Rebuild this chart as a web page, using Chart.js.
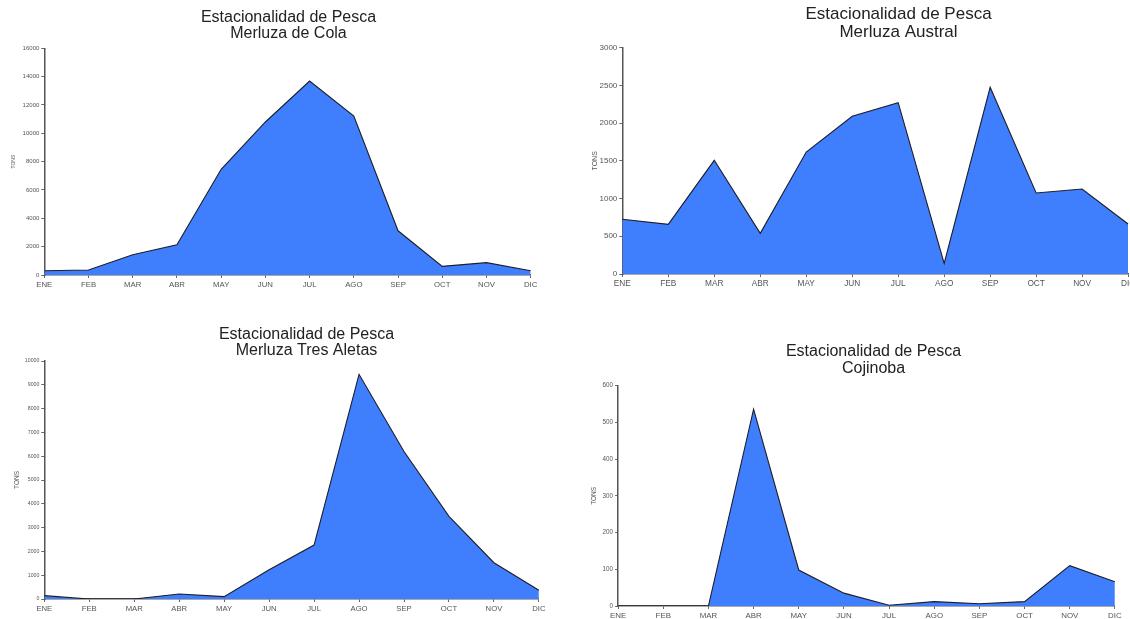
<!DOCTYPE html>
<html>
<head>
<meta charset="utf-8">
<script src="https://cdn.jsdelivr.net/npm/chart.js@4.4.1/dist/chart.umd.min.js"></script>
<style>
  html, body { margin: 0; padding: 0; background: #fff; overflow: hidden; }
  body { width: 1130px; height: 619px; position: relative; }
  canvas { position: absolute; }
</style>
</head>
<body>
<canvas id="c1"></canvas>
<canvas id="c2"></canvas>
<canvas id="c3"></canvas>
<canvas id="c4"></canvas>
<script>
// meses y capturas (toneladas)
var meses = ["ENE", "FEB", "MAR", "ABR", "MAY", "JUN", "JUL", "AGO", "SEP", "OCT", "NOV", "DIC"];
var merluzaCola = [300, 350, 1430, 2140, 7460, 10800, 13690, 11220, 3120, 610, 870, 300];
var merluzaAustral = [725, 658, 1507, 539, 1617, 2090, 2271, 141, 2475, 1074, 1127, 663];
var merluzaTresAletas = [140, 0, 0, 210, 100, 1230, 2266, 9440, 6196, 3470, 1525, 364];
var cojinoba = [0, 0, 0, 536, 98, 35, 2, 12, 6, 12, 110, 66];

// escalas del eje y: [max, paso]
var ejeCola = [16000, 2000];
var ejeAustral = [3000, 500];
var ejeTresAletas = [10000, 1000];
var ejeCojinoba = [600, 100];

var titulo = "Estacionalidad de Pesca";
var FONT = "'Liberation Sans', Arial, Helvetica, sans-serif";

function grafico(id, nombre, valores, eje, lay) {
    var lh = lay.titleSize * 1.05;
    var tonsLH = lay.tonsSize * 1.2;
    var yw = lay.plotL - lay.tonsX + tonsLH / 2;
    var left = lay.plotL - yw;
    var width = 2 * (lay.titleC - left);
    var y2w = left + width - lay.plotR;
    // +1.5: el texto se ve un poco alto con baseline middle
    var pt = lay.line1 + 1.5 - lay.top - lh / 2;
    var pb = lay.plotT - lay.top - pt - 2 * lh;
    var xh = 24;
    var height = lay.plotB - lay.top + xh;

    var cv = document.getElementById(id);
    cv.style.left = left + "px";
    cv.style.top = lay.top + "px";
    cv.width = Math.round(width);
    cv.height = Math.round(height);

    return new Chart(cv, {
        type: 'line',
        data: {
            labels: meses,
            datasets: [{
                label: nombre,
                data: valores,
                fill: 'origin',
                backgroundColor: '#3f7ffd',
                borderColor: '#1e1e2a',
                borderWidth: 1.1,
                pointRadius: 0,
                tension: 0
            }]
        },
        options: {
            responsive: false,
            animation: false,
            layout: { padding: 0 },
            plugins: {
                legend: { display: false },
                tooltip: { enabled: false },
                title: {
                    display: true,
                    text: [titulo, nombre],
                    color: '#222',
                    font: { family: FONT, size: lay.titleSize, weight: 'normal', lineHeight: 1.05 },
                    padding: { top: pt, bottom: pb }
                }
            },
            scales: {
                x: {
                    offset: false,
                    z: 1,
                    grid: { display: true, drawOnChartArea: false, drawTicks: true, tickLength: 3, color: '#666' },
                    border: { display: true, color: '#555', width: 1.5 },
                    ticks: {
                        autoSkip: false, maxRotation: 0, padding: 2,
                        color: '#555',
                        font: { family: FONT, size: lay.xSize }
                    },
                    afterFit: function (s) { s.height = xh; }
                },
                y: {
                    min: 0, max: eje[0],
                    z: 1,
                    grid: { display: true, drawOnChartArea: false, drawTicks: true, tickLength: 3, color: '#666' },
                    border: { display: true, color: '#555', width: 1.5 },
                    ticks: {
                        stepSize: eje[1], padding: 2,
                        color: '#555',
                        font: { family: FONT, size: lay.ySize },
                        callback: function (v) { return String(v); }
                    },
                    title: {
                        display: true, text: 'TONS', color: '#555',
                        padding: { top: 0, bottom: 0 },
                        font: { family: FONT, size: lay.tonsSize, lineHeight: 1.2 }
                    },
                    afterFit: function (s) { s.width = yw; }
                },
                y2: {
                    position: 'right',
                    min: 0, max: eje[0],
                    grid: { display: false },
                    border: { display: false },
                    ticks: { display: false },
                    afterFit: function (s) { s.width = y2w; }
                }
            }
        }
    });
}

grafico("c1", "Merluza de Cola", merluzaCola, ejeCola, {
    top: 0, plotL: 44, plotR: 530, plotT: 48.3, plotB: 275.3,
    titleC: 288, line1: 15.7, titleSize: 16, tonsX: 13.7, tonsSize: 5, xSize: 7.8, ySize: 6
});
grafico("c2", "Merluza Austral", merluzaAustral, ejeAustral, {
    top: 0, plotL: 622.7, plotR: 1128.7, plotT: 47.7, plotB: 274,
    titleC: 899, line1: 13.3, titleSize: 17, tonsX: 595.6, tonsSize: 7, xSize: 8.3, ySize: 8
});
grafico("c3", "Merluza Tres Aletas", merluzaTresAletas, ejeTresAletas, {
    top: 310, plotL: 44.7, plotR: 539.5, plotT: 361, plotB: 599.3,
    titleC: 307, line1: 332.7, titleSize: 16, tonsX: 17.3, tonsSize: 6.5, xSize: 7.7, ySize: 5.2
});
grafico("c4", "Cojinoba", cojinoba, ejeCojinoba, {
    top: 310, plotL: 618, plotR: 1115, plotT: 385.7, plotB: 606,
    titleC: 873.5, line1: 350, titleSize: 16, tonsX: 593.8, tonsSize: 6.5, xSize: 7.9, ySize: 6.3
});
</script>
</body>
</html>
